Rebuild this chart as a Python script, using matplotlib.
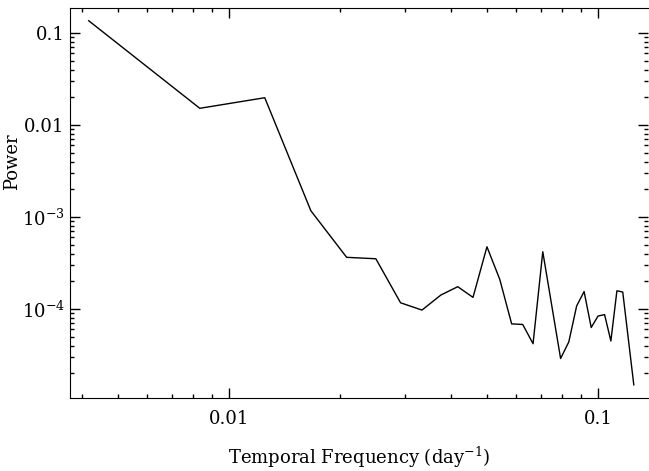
import numpy as np
import matplotlib
matplotlib.use('Agg')
import matplotlib.pyplot as plt
from matplotlib.ticker import FixedLocator, FixedFormatter, LogLocator, NullFormatter

plt.rcParams['font.family'] = 'DejaVu Serif'
plt.rcParams['mathtext.fontset'] = 'dejavuserif'

# harmonic index k, frequency = k / 240 day^-1
harmonic = [1, 2, 3, 4, 5, 6, 7, 8, 9, 10, 11, 12, 13, 14, 15, 16, 17,
            19, 20, 21, 22, 23, 24, 25, 26, 27, 28, 30]
power = [0.136, 0.0152, 0.0198, 1.17e-3, 3.65e-4, 3.52e-4, 1.17e-4, 9.75e-5,
         1.42e-4, 1.75e-4, 1.34e-4, 4.75e-4, 2.1e-4, 6.9e-5, 6.8e-5, 4.2e-5,
         4.2e-4, 2.9e-5, 4.4e-5, 1.08e-4, 1.55e-4, 6.3e-5, 8.4e-5, 8.7e-5,
         4.5e-5, 1.58e-4, 1.53e-4, 1.5e-5]
freq = np.array(harmonic) / 240.0

yticks = [0.1, 0.01, 1e-3, 1e-4]
ylabels = ['0.1', '0.01', r'$10^{-3}$', r'$10^{-4}$']
xticks = [0.01, 0.1]
xlabels = ['0.01', '0.1']

fig = plt.figure(figsize=(6.49, 4.71), dpi=100)
ax = fig.add_axes([0.108, 0.155, 0.8905, 0.828])

ax.plot(freq, power, color='black', lw=1.0)
ax.set_xscale('log')
ax.set_yscale('log')
ax.set_xlim(0.00371, 0.1366)
ax.set_ylim(1.08e-5, 0.187)

ax.xaxis.set_major_locator(FixedLocator(xticks))
ax.xaxis.set_major_formatter(FixedFormatter(xlabels))
ax.yaxis.set_major_locator(FixedLocator(yticks))
ax.yaxis.set_major_formatter(FixedFormatter(ylabels))
ax.xaxis.set_minor_locator(LogLocator(base=10, subs=np.arange(2, 10)))
ax.yaxis.set_minor_locator(LogLocator(base=10, subs=np.arange(2, 10)))
ax.xaxis.set_minor_formatter(NullFormatter())
ax.yaxis.set_minor_formatter(NullFormatter())

ax.tick_params(which='both', direction='in', top=True, right=True,
               width=1.0, labelsize=13)
ax.tick_params(which='major', length=7)
ax.tick_params(which='minor', length=3)
ax.tick_params(axis='x', pad=9)
ax.tick_params(axis='y', pad=4)
ax.spines['right'].set_visible(False)

ax.set_xlabel(r'Temporal Frequency (day$^{-1}$)', fontsize=13)
ax.set_ylabel('Power', fontsize=13)
ax.xaxis.set_label_coords(0.5, -0.12)
ax.yaxis.set_label_coords(-0.085, 0.605)

fig.savefig('out.png', dpi=100)
